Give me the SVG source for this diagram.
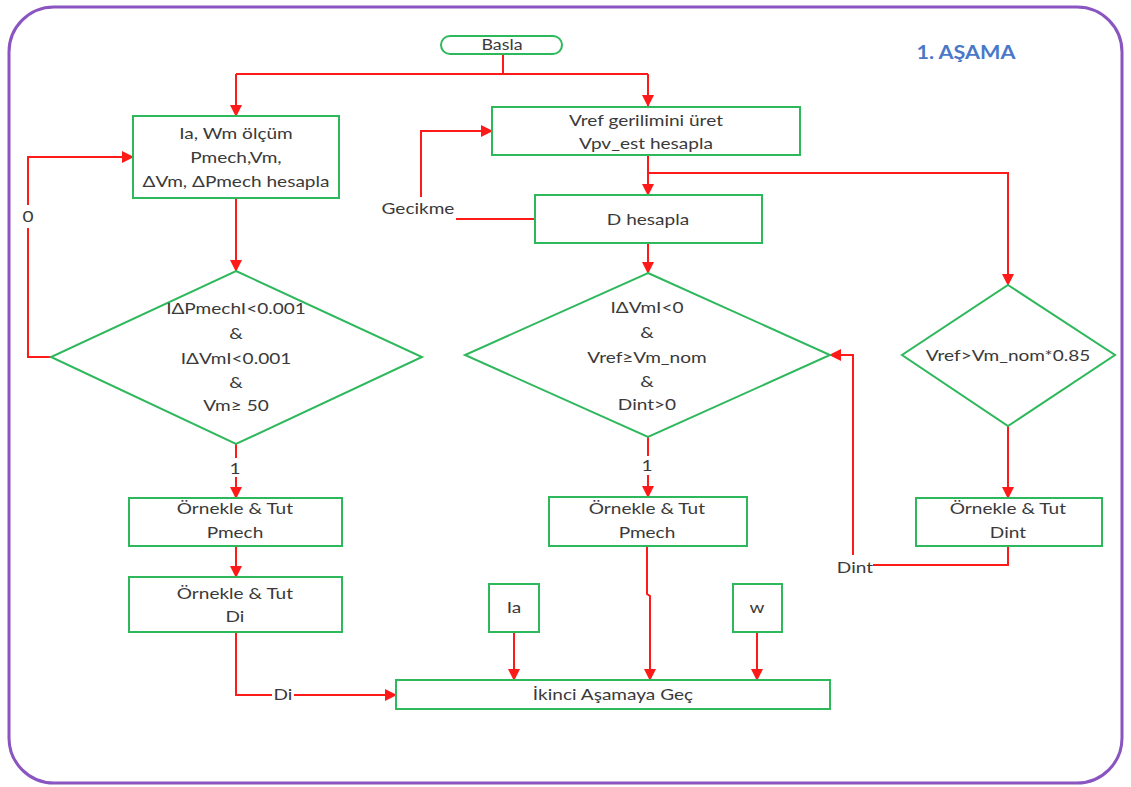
<svg xmlns="http://www.w3.org/2000/svg" width="1131" height="787" viewBox="0 0 1131 787">
<style>
  .box{fill:#fff;stroke:#2eb85c;stroke-width:2}
  .t{font-family:Lato,"Liberation Sans",sans-serif;font-size:16px;fill:#3a3a3a;text-anchor:middle;dominant-baseline:central;transform-box:fill-box;transform-origin:center;transform:scaleX(1.19)}
  .h{font-family:Lato,"Liberation Sans",sans-serif;font-size:18px;font-weight:bold;fill:#4a78c8;text-anchor:middle;dominant-baseline:central;transform-box:fill-box;transform-origin:center;transform:scaleX(1.2)}
  .c{fill:none;stroke:#ff1a1a;stroke-width:2}
  .a{marker-end:url(#ah)}
</style>
<defs>
  <marker id="ah" markerUnits="userSpaceOnUse" markerWidth="12" markerHeight="12" refX="11" refY="6" orient="auto" viewBox="0 0 12 12">
    <path d="M0,0 L12,6 L0,12 z" fill="#ff1a1a"/>
  </marker>
</defs>
<rect x="0" y="0" width="1131" height="787" fill="#fff"/>
<rect id="frame" x="9" y="7" width="1113" height="776" rx="45" ry="45" fill="none" stroke="#8a55c0" stroke-width="3"/>
<text class="h" x="966" y="52">1. AŞAMA</text>

<g id="connectors">
  <path class="c" d="M503,54 V74 M236,74 H648"/>
  <path class="c a" d="M236,74 V116"/>
  <path class="c a" d="M648,74 V106"/>
  <path class="c a" d="M236,198 V271"/>
  <path class="c a" d="M51,357 H28 V228 M28,205 V157 H133"/>
  <path class="c" d="M236,444 V458"/>
  <path class="c a" d="M236,477 V498"/>
  <path class="c a" d="M236,546 V577"/>
  <path class="c" d="M236,632 V695 H272"/>
  <path class="c a" d="M294,695 H396"/>
  <path class="c a" d="M648,155 V195"/>
  <path class="c a" d="M648,173 H1008 V285"/>
  <path class="c" d="M535,219 H456"/>
  <path class="c a" d="M421,197 V131 H492"/>
  <path class="c a" d="M648,243 V273"/>
  <path class="c" d="M648,437 V456"/>
  <path class="c a" d="M648,475 V497"/>
  <path class="c a" d="M647,546 V594 L650,596 V680"/>
  <path class="c a" d="M1008,426 V498"/>
  <path class="c" d="M1008,546 V565 H873"/>
  <path class="c a" d="M853,555 V355 H830"/>
  <path class="c a" d="M514,632 V680"/>
  <path class="c a" d="M757,632 V680"/>
</g>

<g id="basla">
  <rect class="box" x="441" y="36" width="121" height="18" rx="9" ry="9"/>
  <text class="t" x="502" y="45" style="font-size:15px">Basla</text>
</g>
<g id="olcum">
  <rect class="box" x="133" y="116" width="206" height="82"/>
  <text class="t" x="236" y="133">Ia, Wm ölçüm</text>
  <text class="t" x="236" y="157">Pmech,Vm,</text>
  <text class="t" x="236" y="181">ΔVm, ΔPmech hesapla</text>
</g>
<g id="vref">
  <rect class="box" x="492" y="107" width="308" height="48"/>
  <text class="t" x="646" y="120">Vref gerilimini üret</text>
  <text class="t" x="646" y="143">Vpv_est hesapla</text>
</g>
<g id="dhesapla">
  <rect class="box" x="535" y="195" width="227" height="48"/>
  <text class="t" x="648" y="219">D hesapla</text>
</g>
<g id="gecikme">
  <text class="t" x="418" y="208">Gecikme</text>
</g>
<g id="dec1">
  <polygon class="box" points="236,271 422,357 236,444 51,357"/>
  <text class="t" x="236" y="308">IΔPmechI&lt;0.001</text>
  <text class="t" x="236" y="333">&amp;</text>
  <text class="t" x="236" y="358">IΔVmI&lt;0.001</text>
  <text class="t" x="236" y="382">&amp;</text>
  <text class="t" x="236" y="405">Vm≥ 50</text>
</g>
<g id="label0"><text class="t" x="28" y="216">0</text></g>
<g id="label1a"><text class="t" x="235" y="468">1</text></g>
<g id="dec2">
  <polygon class="box" points="648,273 830,355 648,437 465,355"/>
  <text class="t" x="647" y="307">IΔVmI&lt;0</text>
  <text class="t" x="647" y="332">&amp;</text>
  <text class="t" x="647" y="357">Vref≥Vm_nom</text>
  <text class="t" x="647" y="381">&amp;</text>
  <text class="t" x="647" y="404">Dint&gt;0</text>
</g>
<g id="label1b"><text class="t" x="647" y="465">1</text></g>
<g id="dec3">
  <polygon class="box" points="1008,285 1115,355 1008,426 902,355"/>
  <text class="t" x="1008" y="355">Vref&gt;Vm_nom*0.85</text>
</g>
<g id="sh1">
  <rect class="box" x="129" y="498" width="213" height="48"/>
  <text class="t" x="235" y="508">Örnekle &amp; Tut</text>
  <text class="t" x="235" y="532">Pmech</text>
</g>
<g id="sh2">
  <rect class="box" x="129" y="577" width="213" height="55"/>
  <text class="t" x="235" y="593">Örnekle &amp; Tut</text>
  <text class="t" x="235" y="616">Di</text>
</g>
<g id="sh3">
  <rect class="box" x="549" y="497" width="198" height="49"/>
  <text class="t" x="647" y="508">Örnekle &amp; Tut</text>
  <text class="t" x="647" y="532">Pmech</text>
</g>
<g id="sh4">
  <rect class="box" x="916" y="498" width="186" height="48"/>
  <text class="t" x="1008" y="508">Örnekle &amp; Tut</text>
  <text class="t" x="1008" y="532">Dint</text>
</g>
<g id="labelDi"><text class="t" x="283" y="694">Di</text></g>
<g id="labelDint"><text class="t" x="855" y="567">Dint</text></g>
<g id="ia">
  <rect class="box" x="489" y="584" width="50" height="48"/>
  <text class="t" x="514" y="607">Ia</text>
</g>
<g id="w">
  <rect class="box" x="733" y="584" width="49" height="48"/>
  <text class="t" x="757" y="607">w</text>
</g>
<g id="ikinci">
  <rect class="box" x="396" y="680" width="434" height="29"/>
  <text class="t" x="613" y="694">İkinci Aşamaya Geç</text>
</g>
</svg>
